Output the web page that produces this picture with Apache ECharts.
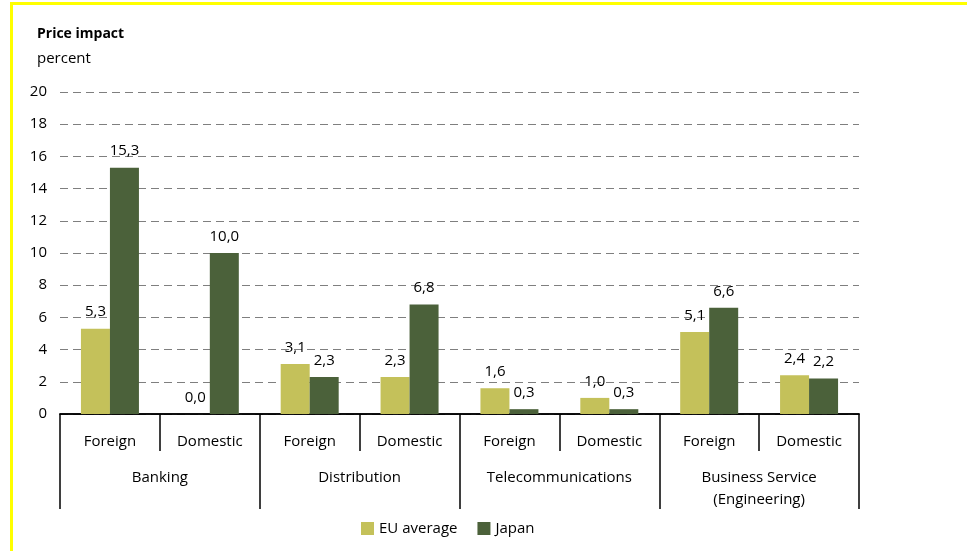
<!DOCTYPE html>
<html>
<head>
<meta charset="utf-8">
<script src="https://cdn.jsdelivr.net/npm/echarts@6/dist/echarts.min.js"></script>
<style>
    html, body { margin: 0; padding: 0; background: #fff; }
    #frame {
        position: absolute; left: 10px; top: 2px; width: 957px; height: 549px;
        border-top: 3px solid #ffff00; border-left: 3px solid #ffff00;
        box-sizing: border-box;
    }
    #chart { position: absolute; left: 0; top: 0; width: 967px; height: 551px; }
</style>
</head>
<body>
<div id="frame"></div>
<div id="chart"></div>
<script>
// sub-categories (one per bar pair) and the sector groups under them
const subCategories = ['Foreign', 'Domestic', 'Foreign', 'Domestic', 'Foreign', 'Domestic', 'Foreign', 'Domestic'];
const sectors = ['Banking', 'Distribution', 'Telecommunications', 'Business Service\n(Engineering)'];

const euAverage = [5.3, 0.0, 3.1, 2.3, 1.6, 1.0, 5.1, 2.4];
const japan = [15.3, 10.0, 2.3, 6.8, 0.3, 0.3, 6.6, 2.2];

const yTicks = { min: 0, max: 20, interval: 2 };

const fontFamily = '"Open Sans", "Noto Sans", sans-serif';

document.addEventListener('DOMContentLoaded', () => {
    const chart = echarts.init(document.getElementById('chart'));

    const valueLabel = {
        show: true,
        position: 'top',
        distance: 9,
        color: '#000',
        fontSize: 15,
        fontFamily: fontFamily,
        formatter: p => p.value.toFixed(1).replace('.', ',')
    };

    const option = {
        animation: false,
        textStyle: { fontFamily: fontFamily },
        title: [
            {
                text: 'Price impact',
                left: 37, top: 27, padding: 0,
                textStyle: { fontSize: 14, fontWeight: 'bold', color: '#000', fontFamily: fontFamily }
            },
            {
                text: 'percent',
                left: 37, top: 51, padding: 0,
                textStyle: { fontSize: 15, fontWeight: 'normal', color: '#000', fontFamily: fontFamily }
            }
        ],
        legend: {
            left: 361, top: 521, padding: 0,
            itemWidth: 13, itemHeight: 13, itemGap: 20,
            icon: 'rect',
            textStyle: { fontSize: 15, color: '#000', fontFamily: fontFamily },
            data: ['EU average', 'Japan']
        },
        grid: { left: 60, right: 108, top: 92, bottom: 137 },
        xAxis: [
            {
                type: 'category',
                position: 'bottom',
                data: subCategories,
                axisLine: { lineStyle: { color: '#000', width: 1.5 } },
                axisTick: { show: true, length: 37, interval: 0, lineStyle: { color: '#000', width: 1.5 } },
                axisLabel: { interval: 0, margin: 20, fontSize: 15, color: '#000' }
            },
            {
                type: 'category',
                position: 'bottom',
                data: sectors,
                axisLine: { lineStyle: { color: '#000', width: 1.5 } },
                axisTick: { show: true, length: 95, interval: 0, lineStyle: { color: '#000', width: 1.5 } },
                axisLabel: { interval: 0, margin: 53, fontSize: 15, lineHeight: 22, color: '#000' }
            }
        ],
        yAxis: {
            type: 'value',
            min: yTicks.min, max: yTicks.max, interval: yTicks.interval,
            axisLine: { show: false },
            axisTick: { show: false },
            axisLabel: { margin: 13, fontSize: 15, color: '#000' },
            splitLine: { lineStyle: { color: '#7f7f7f', type: [8, 5], width: 1 } }
        },
        series: [
            {
                name: 'EU average',
                type: 'bar',
                xAxisIndex: 0,
                data: euAverage,
                barWidth: 29,
                barGap: '0%',
                itemStyle: { color: '#c4c15a' },
                label: valueLabel
            },
            {
                name: 'Japan',
                type: 'bar',
                xAxisIndex: 0,
                data: japan,
                barWidth: 29,
                barGap: '0%',
                itemStyle: { color: '#4b613a' },
                label: valueLabel
            }
        ]
    };

    chart.setOption(option);
});
</script>
</body>
</html>
